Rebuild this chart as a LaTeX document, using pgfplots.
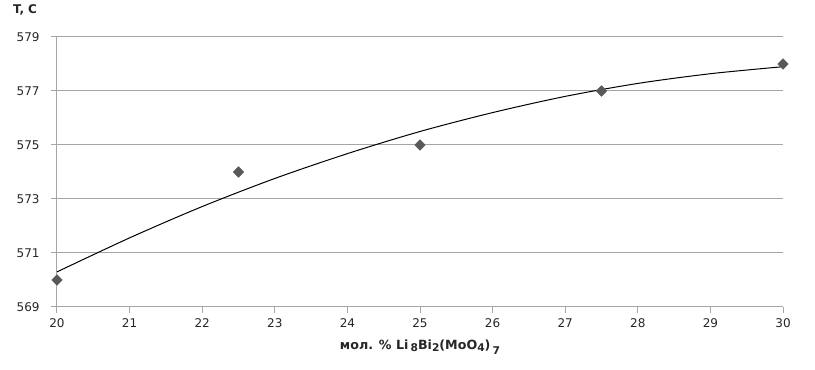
\documentclass[border=0pt]{standalone}
\usepackage{pgfplots}
\pgfplotsset{compat=1.18}
\usepackage{fontspec}
\setmainfont{DejaVu Sans}
\definecolor{gridc}{HTML}{A6A6A6}
\definecolor{markc}{HTML}{595959}
\newcommand{\sub}[2][2pt]{\raisebox{-#1}{\fontsize{8}{9}\selectfont #2}}
\begin{document}
\begin{tikzpicture}
\path[use as bounding box] (-42.75pt,-47.25pt) rectangle (568.5pt,230.25pt);
\begin{axis}[
  at={(0,0)}, anchor=south west,
  scale only axis, width=544.5pt, height=202.5pt,
  xmin=20, xmax=30, ymin=569, ymax=579,
  xtick={20,21,...,30}, ytick={569,571,...,579},
  axis line style={gridc, line width=0.75pt},
  axis x line*=bottom, axis y line*=left,
  ymajorgrids, major grid style={gridc, line width=0.75pt},
  tick style={gridc, line width=0.75pt},
  tick align=outside, major tick length=4.5pt,
  tick label style={font=\fontsize{9}{11}\selectfont, text=black!85},
  /pgf/number format/assume math mode=true,
  /pgf/number format/.cd, 1000 sep={}, /pgfplots/.cd,
  xticklabel style={yshift=-1pt},
  yticklabel style={xshift=-5pt},
  clip=false,
]
\addplot[black, line width=0.75pt, smooth] coordinates {
 (20,570.30) (21,571.56) (22,572.72) (23,573.76) (24,574.68) (25,575.50)
 (26,576.20) (27,576.80) (28,577.28) (29,577.64) (30,577.90)};
\addplot[only marks, mark=diamond*, mark size=4pt, mark options={fill=markc, draw=markc, xscale=1.3}] coordinates {
 (20,570) (22.5,574) (25,575) (27.5,577) (30,578)};
\node[font=\bfseries\fontsize{9}{11}\selectfont, text=black!85] at (axis description cs:-0.044,1.1) {T, C};
\node[font=\bfseries\fontsize{9.5}{11}\selectfont, text=black!85] at (axis description cs:0.5,-0.148) {мол. \% Li\,\sub{8}Bi\sub{2}(MoO\sub{4})\,\sub[4pt]{7}};
\end{axis}
\end{tikzpicture}
\end{document}
